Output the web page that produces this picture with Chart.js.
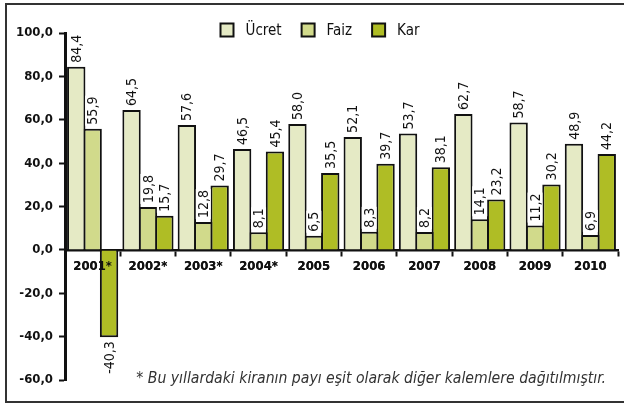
<!DOCTYPE html>
<html>
<head>
<meta charset="utf-8">
<script src="https://cdn.jsdelivr.net/npm/chart.js@4/dist/chart.umd.min.js"></script>
<style>
  html, body { margin: 0; padding: 0; background: #fff; }
  #wrap { width: 624px; height: 408px; position: relative; }
</style>
</head>
<body>
<div id="wrap"><canvas id="chart" width="624" height="408"></canvas></div>
<script>
/* Ücret / Faiz / Kar shares by year */
const years = ["2001*", "2002*", "2003*", "2004*", "2005", "2006", "2007", "2008", "2009", "2010"];
const ucret = [84.4, 64.5, 57.6, 46.5, 58.0, 52.1, 53.7, 62.7, 58.7, 48.9];
const faiz  = [55.9, 19.8, 12.8, 8.1, 6.5, 8.3, 8.2, 14.1, 11.2, 6.9];
const kar   = [-40.3, 15.7, 29.7, 45.4, 35.5, 39.7, 38.1, 23.2, 30.2, 44.2];
const seriesNames = ["Ücret", "Faiz", "Kar"];
const seriesColors = ["#e5eac5", "#d1da8b", "#afbd25"];
const footnote = "* Bu yıllardaki kiranın payı eşit olarak diğer kalemlere dağıtılmıştır.";

const FONT = "'DejaVu Sans Condensed', 'DejaVu Sans', sans-serif";

function fmt(v) { return v.toFixed(1).replace(".", ","); }

/* ---------- plugins ---------- */
const frame = {
    id: "frame",
    beforeDraw(chart) {
        const ctx = chart.ctx;
        ctx.save();
        ctx.fillStyle = "#fff";
        ctx.fillRect(0, 0, chart.width, chart.height);
        ctx.strokeStyle = "#333";
        ctx.lineWidth = 2;
        ctx.strokeRect(6, 4, 640, 398);
        ctx.restore();
    }
};

const valueLabels = {
    id: "valueLabels",
    afterDatasetsDraw(chart) {
        // year labels sit on top of the bars (the 2001 Kar bar crosses them)
        chart.scales.x.drawLabels(chart.chartArea);

        const ctx = chart.ctx;
        ctx.save();
        ctx.font = "14px " + FONT;
        ctx.textBaseline = "middle";
        chart.data.datasets.forEach((ds, i) => {
            chart.getDatasetMeta(i).data.forEach((bar, j) => {
                const v = ds.data[j];
                const txt = fmt(v);
                const w = ctx.measureText(txt).width;
                const neg = v < 0;
                const ay = neg ? bar.y + 4 : bar.y - 4;
                ctx.save();
                ctx.translate(bar.x, ay);
                ctx.rotate(-Math.PI / 2);
                ctx.fillStyle = "#fff";
                if (neg) ctx.fillRect(-w - 1, -7.5, w + 2, 15);
                else ctx.fillRect(-1, -7.5, w + 2, 15);
                ctx.fillStyle = "#111";
                ctx.textAlign = neg ? "right" : "left";
                ctx.fillText(txt, 0, 1);
                ctx.restore();
            });
        });
        ctx.restore();
    }
};

const legendBoxes = {
    id: "legendBoxes",
    afterDraw(chart) {
        const ctx = chart.ctx;
        ctx.save();
        ctx.font = "15px " + FONT;
        ctx.textBaseline = "middle";
        const box = 13, gapText = 12, gapItem = 20;
        const widths = chart.data.datasets.map(d => ctx.measureText(d.label).width);
        let total = widths.reduce((a, b) => a + b, 0) + widths.length * (box + gapText) + (widths.length - 1) * gapItem;
        let x = 320 - total / 2;
        const y = 30;
        chart.data.datasets.forEach((d, i) => {
            ctx.fillStyle = d.backgroundColor;
            ctx.fillRect(x, y - box / 2, box, box);
            ctx.strokeStyle = "#111";
            ctx.lineWidth = 2;
            ctx.strokeRect(x, y - box / 2, box, box);
            x += box + gapText;
            ctx.fillStyle = "#111";
            ctx.fillText(d.label, x, y + 1);
            x += widths[i] + gapItem;
        });
        ctx.restore();
    }
};

const note = {
    id: "note",
    afterDraw(chart) {
        const ctx = chart.ctx;
        ctx.save();
        let size = 13;
        ctx.font = "italic " + size + "px " + FONT;
        const w = ctx.measureText(footnote).width;
        size = size * 470 / w;
        ctx.font = "italic " + size.toFixed(2) + "px " + FONT;
        ctx.fillStyle = "#333";
        ctx.textAlign = "right";
        ctx.textBaseline = "alphabetic";
        ctx.fillText(footnote, 606, 383);
        ctx.restore();
    }
};

/* ---------- chart ---------- */
const datasets = [ucret, faiz, kar].map((vals, i) => ({
    label: seriesNames[i],
    data: vals,
    backgroundColor: seriesColors[i],
    borderColor: "#111",
    borderWidth: 2,
    borderSkipped: "start",
    inflateAmount: 0,
    categoryPercentage: 0.89,
    barPercentage: 1.12
}));

new Chart(document.getElementById("chart"), {
    type: "bar",
    data: { labels: years, datasets },
    plugins: [frame, valueLabels, legendBoxes, note],
    options: {
        responsive: false,
        animation: false,
        layout: { padding: { left: 0, right: 6, top: 33, bottom: 28 } },
        plugins: { legend: { display: false }, tooltip: { enabled: false } },
        scales: {
            x: {
                position: { y: 0 },
                offset: true,
                border: { display: true, color: "#111", width: 2.5 },
                grid: { display: true, offset: true, drawOnChartArea: false, drawTicks: true, tickLength: 5, tickWidth: 2, tickColor: "#111" },
                ticks: { color: "#111", font: { family: FONT, size: 13, weight: "bold" }, padding: 4, maxRotation: 0, autoSkip: false }
            },
            y: {
                min: -60,
                max: 100,
                afterFit(scale) { scale.width = 65; },
                border: { display: true, color: "#111", width: 3 },
                grid: { display: true, drawOnChartArea: false, drawTicks: true, tickLength: 6, tickWidth: 2, tickColor: "#111" },
                ticks: { stepSize: 20, color: "#111", padding: 6, font: { family: FONT, size: 13, weight: "bold" }, callback: v => fmt(v) }
            }
        }
    }
});
</script>
</body>
</html>
